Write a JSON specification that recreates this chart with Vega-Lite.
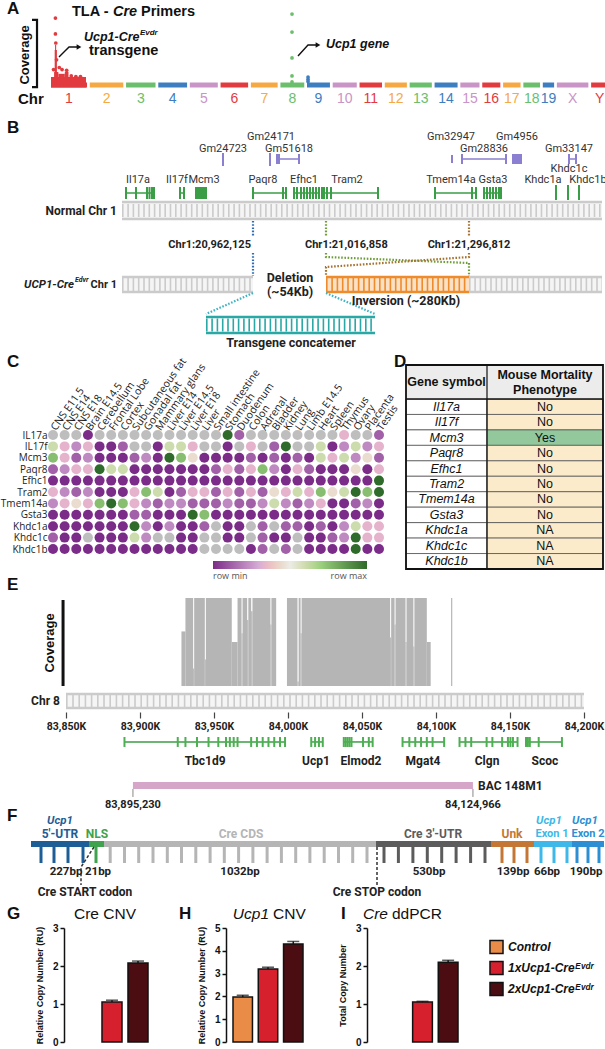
{
"$schema": "https://vega.github.io/schema/vega-lite/v6.json",
"padding": 0,
"background": "white",
"spacing": 0,
"bounds": "flush",
"config": {"view": {"stroke": null}, "font": "Liberation Sans"},
"resolve": {"scale": {"color": "independent", "fill": "independent", "stroke": "independent"}},
"datasets": {
"heat": [
{"g":"IL17a","t":"CNS E11.5","v":null},{"g":"IL17a","t":"CNS E14","v":null},{"g":"IL17a","t":"CNS E18","v":null},{"g":"IL17a","t":"Brain E14.5","v":0},{"g":"IL17a","t":"Cerebellum","v":null},{"g":"IL17a","t":"Frontal Lobe","v":null},{"g":"IL17a","t":"Cortex","v":null},{"g":"IL17a","t":"Subcutaneous fat","v":null},{"g":"IL17a","t":"Gonadal fat","v":null},{"g":"IL17a","t":"Mammary glans","v":null},{"g":"IL17a","t":"Liver E14","v":null},{"g":"IL17a","t":"Liver E14.5","v":null},{"g":"IL17a","t":"Liver E18","v":null},{"g":"IL17a","t":"Liver","v":null},{"g":"IL17a","t":"Small intestine","v":null},{"g":"IL17a","t":"Stomach","v":1},{"g":"IL17a","t":"Duodenum","v":0.12},{"g":"IL17a","t":"Colon","v":null},{"g":"IL17a","t":"Adrenal","v":null},{"g":"IL17a","t":"Bladder","v":null},{"g":"IL17a","t":"Kidney","v":null},{"g":"IL17a","t":"Lung","v":null},{"g":"IL17a","t":"Limb E14.5","v":null},{"g":"IL17a","t":"Heart","v":null},{"g":"IL17a","t":"Spleen","v":null},{"g":"IL17a","t":"Thymus","v":0.33},{"g":"IL17a","t":"Ovary","v":null},{"g":"IL17a","t":"Placenta","v":null},{"g":"IL17a","t":"Testis","v":0.12},
{"g":"IL17f","t":"CNS E11.5","v":0.6},{"g":"IL17f","t":"CNS E14","v":0.33},{"g":"IL17f","t":"CNS E18","v":0.22},{"g":"IL17f","t":"Brain E14.5","v":0.33},{"g":"IL17f","t":"Cerebellum","v":0},{"g":"IL17f","t":"Frontal Lobe","v":0},{"g":"IL17f","t":"Cortex","v":0.12},{"g":"IL17f","t":"Subcutaneous fat","v":null},{"g":"IL17f","t":"Gonadal fat","v":null},{"g":"IL17f","t":"Mammary glans","v":0},{"g":"IL17f","t":"Liver E14","v":0.6},{"g":"IL17f","t":"Liver E14.5","v":0.6},{"g":"IL17f","t":"Liver E18","v":0.33},{"g":"IL17f","t":"Liver","v":null},{"g":"IL17f","t":"Small intestine","v":null},{"g":"IL17f","t":"Stomach","v":0},{"g":"IL17f","t":"Duodenum","v":null},{"g":"IL17f","t":"Colon","v":0.33},{"g":"IL17f","t":"Adrenal","v":null},{"g":"IL17f","t":"Bladder","v":0.12},{"g":"IL17f","t":"Kidney","v":1},{"g":"IL17f","t":"Lung","v":null},{"g":"IL17f","t":"Limb E14.5","v":null},{"g":"IL17f","t":"Heart","v":0.6},{"g":"IL17f","t":"Spleen","v":0},{"g":"IL17f","t":"Thymus","v":0.22},{"g":"IL17f","t":"Ovary","v":0.6},{"g":"IL17f","t":"Placenta","v":0.22},{"g":"IL17f","t":"Testis","v":0.33},
{"g":"Mcm3","t":"CNS E11.5","v":0.75},{"g":"Mcm3","t":"CNS E14","v":0.33},{"g":"Mcm3","t":"CNS E18","v":0.12},{"g":"Mcm3","t":"Brain E14.5","v":0.22},{"g":"Mcm3","t":"Cerebellum","v":0},{"g":"Mcm3","t":"Frontal Lobe","v":0},{"g":"Mcm3","t":"Cortex","v":0},{"g":"Mcm3","t":"Subcutaneous fat","v":0.12},{"g":"Mcm3","t":"Gonadal fat","v":0.22},{"g":"Mcm3","t":"Mammary glans","v":0},{"g":"Mcm3","t":"Liver E14","v":1},{"g":"Mcm3","t":"Liver E14.5","v":0.75},{"g":"Mcm3","t":"Liver E18","v":0.45},{"g":"Mcm3","t":"Liver","v":0},{"g":"Mcm3","t":"Small intestine","v":0},{"g":"Mcm3","t":"Stomach","v":0},{"g":"Mcm3","t":"Duodenum","v":0},{"g":"Mcm3","t":"Colon","v":0.12},{"g":"Mcm3","t":"Adrenal","v":0},{"g":"Mcm3","t":"Bladder","v":0.12},{"g":"Mcm3","t":"Kidney","v":0},{"g":"Mcm3","t":"Lung","v":0.12},{"g":"Mcm3","t":"Limb E14.5","v":0},{"g":"Mcm3","t":"Heart","v":0.6},{"g":"Mcm3","t":"Spleen","v":0.33},{"g":"Mcm3","t":"Thymus","v":0.6},{"g":"Mcm3","t":"Ovary","v":0.22},{"g":"Mcm3","t":"Placenta","v":0.45},{"g":"Mcm3","t":"Testis","v":0.12},
{"g":"Paqr8","t":"CNS E11.5","v":0.12},{"g":"Paqr8","t":"CNS E14","v":0.22},{"g":"Paqr8","t":"CNS E18","v":0.33},{"g":"Paqr8","t":"Brain E14.5","v":0.33},{"g":"Paqr8","t":"Cerebellum","v":1},{"g":"Paqr8","t":"Frontal Lobe","v":0.6},{"g":"Paqr8","t":"Cortex","v":0.6},{"g":"Paqr8","t":"Subcutaneous fat","v":0},{"g":"Paqr8","t":"Gonadal fat","v":0},{"g":"Paqr8","t":"Mammary glans","v":0},{"g":"Paqr8","t":"Liver E14","v":0},{"g":"Paqr8","t":"Liver E14.5","v":0},{"g":"Paqr8","t":"Liver E18","v":0},{"g":"Paqr8","t":"Liver","v":0},{"g":"Paqr8","t":"Small intestine","v":0.12},{"g":"Paqr8","t":"Stomach","v":0.33},{"g":"Paqr8","t":"Duodenum","v":0.12},{"g":"Paqr8","t":"Colon","v":0.33},{"g":"Paqr8","t":"Adrenal","v":0.75},{"g":"Paqr8","t":"Bladder","v":0.22},{"g":"Paqr8","t":"Kidney","v":0},{"g":"Paqr8","t":"Lung","v":0.33},{"g":"Paqr8","t":"Limb E14.5","v":0.12},{"g":"Paqr8","t":"Heart","v":0},{"g":"Paqr8","t":"Spleen","v":0},{"g":"Paqr8","t":"Thymus","v":0},{"g":"Paqr8","t":"Ovary","v":0.45},{"g":"Paqr8","t":"Placenta","v":0},{"g":"Paqr8","t":"Testis","v":0.33},
{"g":"Efhc1","t":"CNS E11.5","v":0},{"g":"Efhc1","t":"CNS E14","v":0},{"g":"Efhc1","t":"CNS E18","v":0},{"g":"Efhc1","t":"Brain E14.5","v":0},{"g":"Efhc1","t":"Cerebellum","v":0},{"g":"Efhc1","t":"Frontal Lobe","v":0},{"g":"Efhc1","t":"Cortex","v":0},{"g":"Efhc1","t":"Subcutaneous fat","v":0},{"g":"Efhc1","t":"Gonadal fat","v":0},{"g":"Efhc1","t":"Mammary glans","v":0},{"g":"Efhc1","t":"Liver E14","v":0},{"g":"Efhc1","t":"Liver E14.5","v":0},{"g":"Efhc1","t":"Liver E18","v":0},{"g":"Efhc1","t":"Liver","v":0},{"g":"Efhc1","t":"Small intestine","v":0},{"g":"Efhc1","t":"Stomach","v":0},{"g":"Efhc1","t":"Duodenum","v":0},{"g":"Efhc1","t":"Colon","v":0},{"g":"Efhc1","t":"Adrenal","v":0},{"g":"Efhc1","t":"Bladder","v":0},{"g":"Efhc1","t":"Kidney","v":0},{"g":"Efhc1","t":"Lung","v":0},{"g":"Efhc1","t":"Limb E14.5","v":0},{"g":"Efhc1","t":"Heart","v":0},{"g":"Efhc1","t":"Spleen","v":0},{"g":"Efhc1","t":"Thymus","v":0},{"g":"Efhc1","t":"Ovary","v":0},{"g":"Efhc1","t":"Placenta","v":0},{"g":"Efhc1","t":"Testis","v":1},
{"g":"Tram2","t":"CNS E11.5","v":0.33},{"g":"Tram2","t":"CNS E14","v":0.22},{"g":"Tram2","t":"CNS E18","v":0.12},{"g":"Tram2","t":"Brain E14.5","v":0.22},{"g":"Tram2","t":"Cerebellum","v":0},{"g":"Tram2","t":"Frontal Lobe","v":0},{"g":"Tram2","t":"Cortex","v":0},{"g":"Tram2","t":"Subcutaneous fat","v":0.33},{"g":"Tram2","t":"Gonadal fat","v":0.75},{"g":"Tram2","t":"Mammary glans","v":0.6},{"g":"Tram2","t":"Liver E14","v":0},{"g":"Tram2","t":"Liver E14.5","v":0.12},{"g":"Tram2","t":"Liver E18","v":0.33},{"g":"Tram2","t":"Liver","v":0.33},{"g":"Tram2","t":"Small intestine","v":0.12},{"g":"Tram2","t":"Stomach","v":0.33},{"g":"Tram2","t":"Duodenum","v":0.12},{"g":"Tram2","t":"Colon","v":0.33},{"g":"Tram2","t":"Adrenal","v":0.12},{"g":"Tram2","t":"Bladder","v":0.45},{"g":"Tram2","t":"Kidney","v":0.33},{"g":"Tram2","t":"Lung","v":0.6},{"g":"Tram2","t":"Limb E14.5","v":0.33},{"g":"Tram2","t":"Heart","v":0.75},{"g":"Tram2","t":"Spleen","v":0.45},{"g":"Tram2","t":"Thymus","v":0.6},{"g":"Tram2","t":"Ovary","v":1},{"g":"Tram2","t":"Placenta","v":0.75},{"g":"Tram2","t":"Testis","v":1},
{"g":"Tmem14a","t":"CNS E11.5","v":0.22},{"g":"Tmem14a","t":"CNS E14","v":0.33},{"g":"Tmem14a","t":"CNS E18","v":0.45},{"g":"Tmem14a","t":"Brain E14.5","v":0.33},{"g":"Tmem14a","t":"Cerebellum","v":0.75},{"g":"Tmem14a","t":"Frontal Lobe","v":1},{"g":"Tmem14a","t":"Cortex","v":0.75},{"g":"Tmem14a","t":"Subcutaneous fat","v":0.33},{"g":"Tmem14a","t":"Gonadal fat","v":0.22},{"g":"Tmem14a","t":"Mammary glans","v":0.12},{"g":"Tmem14a","t":"Liver E14","v":0.22},{"g":"Tmem14a","t":"Liver E14.5","v":0.22},{"g":"Tmem14a","t":"Liver E18","v":0.12},{"g":"Tmem14a","t":"Liver","v":0.12},{"g":"Tmem14a","t":"Small intestine","v":0.12},{"g":"Tmem14a","t":"Stomach","v":0.22},{"g":"Tmem14a","t":"Duodenum","v":0.12},{"g":"Tmem14a","t":"Colon","v":0.12},{"g":"Tmem14a","t":"Adrenal","v":0.22},{"g":"Tmem14a","t":"Bladder","v":0.6},{"g":"Tmem14a","t":"Kidney","v":0.22},{"g":"Tmem14a","t":"Lung","v":0.12},{"g":"Tmem14a","t":"Limb E14.5","v":0.22},{"g":"Tmem14a","t":"Heart","v":0.33},{"g":"Tmem14a","t":"Spleen","v":0},{"g":"Tmem14a","t":"Thymus","v":0},{"g":"Tmem14a","t":"Ovary","v":0.12},{"g":"Tmem14a","t":"Placenta","v":0.22},{"g":"Tmem14a","t":"Testis","v":0},
{"g":"Gsta3","t":"CNS E11.5","v":0},{"g":"Gsta3","t":"CNS E14","v":0},{"g":"Gsta3","t":"CNS E18","v":0},{"g":"Gsta3","t":"Brain E14.5","v":0},{"g":"Gsta3","t":"Cerebellum","v":0},{"g":"Gsta3","t":"Frontal Lobe","v":0},{"g":"Gsta3","t":"Cortex","v":0},{"g":"Gsta3","t":"Subcutaneous fat","v":0.12},{"g":"Gsta3","t":"Gonadal fat","v":0.12},{"g":"Gsta3","t":"Mammary glans","v":0},{"g":"Gsta3","t":"Liver E14","v":0},{"g":"Gsta3","t":"Liver E14.5","v":0},{"g":"Gsta3","t":"Liver E18","v":1},{"g":"Gsta3","t":"Liver","v":0.75},{"g":"Gsta3","t":"Small intestine","v":0},{"g":"Gsta3","t":"Stomach","v":0},{"g":"Gsta3","t":"Duodenum","v":0},{"g":"Gsta3","t":"Colon","v":0},{"g":"Gsta3","t":"Adrenal","v":0},{"g":"Gsta3","t":"Bladder","v":0},{"g":"Gsta3","t":"Kidney","v":0},{"g":"Gsta3","t":"Lung","v":0},{"g":"Gsta3","t":"Limb E14.5","v":0},{"g":"Gsta3","t":"Heart","v":0},{"g":"Gsta3","t":"Spleen","v":0},{"g":"Gsta3","t":"Thymus","v":0},{"g":"Gsta3","t":"Ovary","v":0},{"g":"Gsta3","t":"Placenta","v":0},{"g":"Gsta3","t":"Testis","v":0},
{"g":"Khdc1a","t":"CNS E11.5","v":0},{"g":"Khdc1a","t":"CNS E14","v":0},{"g":"Khdc1a","t":"CNS E18","v":0},{"g":"Khdc1a","t":"Brain E14.5","v":0},{"g":"Khdc1a","t":"Cerebellum","v":0},{"g":"Khdc1a","t":"Frontal Lobe","v":0},{"g":"Khdc1a","t":"Cortex","v":0},{"g":"Khdc1a","t":"Subcutaneous fat","v":1},{"g":"Khdc1a","t":"Gonadal fat","v":0.22},{"g":"Khdc1a","t":"Mammary glans","v":0},{"g":"Khdc1a","t":"Liver E14","v":0.22},{"g":"Khdc1a","t":"Liver E14.5","v":0},{"g":"Khdc1a","t":"Liver E18","v":0},{"g":"Khdc1a","t":"Liver","v":0.12},{"g":"Khdc1a","t":"Small intestine","v":null},{"g":"Khdc1a","t":"Stomach","v":0},{"g":"Khdc1a","t":"Duodenum","v":0},{"g":"Khdc1a","t":"Colon","v":null},{"g":"Khdc1a","t":"Adrenal","v":0.12},{"g":"Khdc1a","t":"Bladder","v":null},{"g":"Khdc1a","t":"Kidney","v":0.12},{"g":"Khdc1a","t":"Lung","v":0.12},{"g":"Khdc1a","t":"Limb E14.5","v":0},{"g":"Khdc1a","t":"Heart","v":0.12},{"g":"Khdc1a","t":"Spleen","v":0},{"g":"Khdc1a","t":"Thymus","v":0.22},{"g":"Khdc1a","t":"Ovary","v":0.6},{"g":"Khdc1a","t":"Placenta","v":0.33},{"g":"Khdc1a","t":"Testis","v":0.33},
{"g":"Khdc1c","t":"CNS E11.5","v":0.12},{"g":"Khdc1c","t":"CNS E14","v":0},{"g":"Khdc1c","t":"CNS E18","v":0},{"g":"Khdc1c","t":"Brain E14.5","v":null},{"g":"Khdc1c","t":"Cerebellum","v":0},{"g":"Khdc1c","t":"Frontal Lobe","v":0},{"g":"Khdc1c","t":"Cortex","v":0},{"g":"Khdc1c","t":"Subcutaneous fat","v":0.6},{"g":"Khdc1c","t":"Gonadal fat","v":0.22},{"g":"Khdc1c","t":"Mammary glans","v":null},{"g":"Khdc1c","t":"Liver E14","v":null},{"g":"Khdc1c","t":"Liver E14.5","v":0},{"g":"Khdc1c","t":"Liver E18","v":0},{"g":"Khdc1c","t":"Liver","v":null},{"g":"Khdc1c","t":"Small intestine","v":null},{"g":"Khdc1c","t":"Stomach","v":0},{"g":"Khdc1c","t":"Duodenum","v":0},{"g":"Khdc1c","t":"Colon","v":null},{"g":"Khdc1c","t":"Adrenal","v":0.12},{"g":"Khdc1c","t":"Bladder","v":0},{"g":"Khdc1c","t":"Kidney","v":0},{"g":"Khdc1c","t":"Lung","v":null},{"g":"Khdc1c","t":"Limb E14.5","v":0},{"g":"Khdc1c","t":"Heart","v":0},{"g":"Khdc1c","t":"Spleen","v":0.12},{"g":"Khdc1c","t":"Thymus","v":0.22},{"g":"Khdc1c","t":"Ovary","v":1},{"g":"Khdc1c","t":"Placenta","v":0.33},{"g":"Khdc1c","t":"Testis","v":0.33},
{"g":"Khdc1b","t":"CNS E11.5","v":0},{"g":"Khdc1b","t":"CNS E14","v":0},{"g":"Khdc1b","t":"CNS E18","v":0},{"g":"Khdc1b","t":"Brain E14.5","v":0},{"g":"Khdc1b","t":"Cerebellum","v":0},{"g":"Khdc1b","t":"Frontal Lobe","v":0},{"g":"Khdc1b","t":"Cortex","v":0},{"g":"Khdc1b","t":"Subcutaneous fat","v":0},{"g":"Khdc1b","t":"Gonadal fat","v":0},{"g":"Khdc1b","t":"Mammary glans","v":0},{"g":"Khdc1b","t":"Liver E14","v":0},{"g":"Khdc1b","t":"Liver E14.5","v":0},{"g":"Khdc1b","t":"Liver E18","v":0},{"g":"Khdc1b","t":"Liver","v":null},{"g":"Khdc1b","t":"Small intestine","v":null},{"g":"Khdc1b","t":"Stomach","v":null},{"g":"Khdc1b","t":"Duodenum","v":null},{"g":"Khdc1b","t":"Colon","v":0},{"g":"Khdc1b","t":"Adrenal","v":0.12},{"g":"Khdc1b","t":"Bladder","v":null},{"g":"Khdc1b","t":"Kidney","v":0.12},{"g":"Khdc1b","t":"Lung","v":null},{"g":"Khdc1b","t":"Limb E14.5","v":0},{"g":"Khdc1b","t":"Heart","v":0},{"g":"Khdc1b","t":"Spleen","v":0},{"g":"Khdc1b","t":"Thymus","v":0},{"g":"Khdc1b","t":"Ovary","v":1},{"g":"Khdc1b","t":"Placenta","v":0},{"g":"Khdc1b","t":"Testis","v":0}
]
},
"vconcat": [
{
 "width": 605, "height": 112,
 "data": {"values": [{}]},
 "encoding": {
  "x": {"field": "x", "type": "quantitative", "scale": {"domain": [-255.3, 3030.6], "nice": false, "zero": false}, "axis": null},
  "y": {"field": "y", "type": "quantitative", "scale": {"domain": [-38.57, 121.43], "nice": false, "zero": false}, "axis": null}
 },
 "layer": [
  {"data": {"values": [
    {"chr":"1","x":0,"x2":195.5,"y":0,"mid":97.8},{"chr":"2","x":210.5,"x2":392.6,"y":0,"mid":301.6},{"chr":"3","x":407.6,"x2":567.6,"y":0,"mid":487.6},{"chr":"4","x":582.6,"x2":739.1,"y":0,"mid":660.9},{"chr":"5","x":754.1,"x2":905.9,"y":0,"mid":830},{"chr":"6","x":920.9,"x2":1070.6,"y":0,"mid":995.8},{"chr":"7","x":1085.6,"x2":1231,"y":0,"mid":1158.3},{"chr":"8","x":1246,"x2":1375.4,"y":0,"mid":1310.7},{"chr":"9","x":1390.4,"x2":1515,"y":0,"mid":1452.7},{"chr":"10","x":1530,"x2":1660.7,"y":0,"mid":1595.4},{"chr":"11","x":1675.7,"x2":1797.8,"y":0,"mid":1736.8},{"chr":"12","x":1812.8,"x2":1932.9,"y":0,"mid":1872.9},{"chr":"13","x":1947.9,"x2":2068.3,"y":0,"mid":2008.1},{"chr":"14","x":2083.3,"x2":2208.2,"y":0,"mid":2145.8},{"chr":"15","x":2223.2,"x2":2327.2,"y":0,"mid":2275.2},{"chr":"16","x":2342.2,"x2":2440.4,"y":0,"mid":2391.3},{"chr":"17","x":2455.4,"x2":2550.4,"y":0,"mid":2502.9},{"chr":"18","x":2565.4,"x2":2656.1,"y":0,"mid":2610.8},{"chr":"19","x":2671.1,"x2":2732.5,"y":0,"mid":2701.8},{"chr":"X","x":2747.5,"x2":2918.5,"y":0,"mid":2833},{"chr":"Y","x":2933.5,"x2":3025.2,"y":0,"mid":2979.4}
   ]},
   "layer": [
    {"mark": {"type": "rule", "strokeWidth": 5, "strokeCap": "butt"},
     "encoding": {"x2": {"field": "x2"}, "color": {"field": "chr", "type": "nominal", "scale": {"domain": ["1","2","3","4","5","6","7","8","9","10","11","12","13","14","15","16","17","18","19","X","Y"], "range": ["#E23B3F","#F6A943","#6BBE6B","#3D7EC1","#C994C6","#E23B3F","#F6A943","#6BBE6B","#3D7EC1","#C994C6","#E23B3F","#F6A943","#6BBE6B","#3D7EC1","#C994C6","#E23B3F","#F6A943","#6BBE6B","#3D7EC1","#C994C6","#E23B3F"]}, "legend": null}}},
    {"mark": {"type": "text", "fontSize": 14, "font": "Liberation Sans"},
     "encoding": {"x": {"field": "mid", "type": "quantitative"}, "y": {"datum": -20}, "text": {"field": "chr"}, "color": {"field": "chr", "type": "nominal", "legend": null}}}
   ]},
  {"data": {"values": [
    {"chr":"1","x":0,"x2":190,"y":-3.5,"y2":11.4},{"chr":"1","x":17,"x2":40,"y":0,"y2":18.6},{"chr":"1","x":40,"x2":75,"y":0,"y2":16},{"chr":"1","x":75,"x2":95,"y":0,"y2":18.6},{"chr":"1","x":20,"x2":32,"y":0,"y2":50},{"chr":"1","x":22,"x2":28,"y":0,"y2":57}
   ]},
   "mark": {"type": "rect"},
   "encoding": {"x2": {"field": "x2"}, "y2": {"field": "y2"}, "color": {"field": "chr", "type": "nominal", "legend": null}}},
  {"data": {"values": [
    {"chr":"1","x":24,"y":95.7},{"chr":"1","x":24,"y":72.9},{"chr":"1","x":26,"y":60},{"chr":"1","x":30,"y":36},{"chr":"1","x":45,"y":25},{"chr":"1","x":60,"y":22},{"chr":"1","x":85,"y":21},{"chr":"1","x":14,"y":22},{"chr":"1","x":110,"y":13},{"chr":"1","x":135,"y":12},{"chr":"1","x":160,"y":12},
    {"chr":"8","x":1309,"y":101.4},{"chr":"8","x":1309,"y":75.7},{"chr":"8","x":1309,"y":38.6},{"chr":"8","x":1309,"y":12.9},{"chr":"8","x":1309,"y":4.3},
    {"chr":"9","x":1396,"y":11.4},{"chr":"9","x":1396,"y":8},{"chr":"9","x":1396,"y":5}
   ]},
   "mark": {"type": "circle", "size": 14, "opacity": 1},
   "encoding": {"color": {"field": "chr", "type": "nominal", "legend": null}}},
  {"data": {"values": [
    {"id":"br","o":1,"x":-103.2,"y":92.9},{"id":"br","o":2,"x":-76,"y":92.9},{"id":"br","o":3,"x":-76,"y":-2.9},{"id":"br","o":4,"x":-103.2,"y":-2.9}
   ]},
   "mark": {"type": "line", "strokeWidth": 2.2, "color": "#111"},
   "encoding": {"detail": {"field": "id"}, "order": {"field": "o"}}},
  {"data": {"values": [
    {"id":"a1","o":1,"x":43.4,"y":40},{"id":"a1","o":2,"x":97.8,"y":54.3},{"id":"a1","o":3,"x":147,"y":54.3},
    {"id":"a2","o":1,"x":1341.5,"y":41.4},{"id":"a2","o":2,"x":1395.8,"y":57.1},{"id":"a2","o":3,"x":1445,"y":57.1}
   ]},
   "mark": {"type": "line", "strokeWidth": 1.4, "color": "#111"},
   "encoding": {"detail": {"field": "id"}, "order": {"field": "o"}}},
  {"data": {"values": [{"x":152.1,"y":54.3},{"x":1450.1,"y":57.1}]},
   "mark": {"type": "point", "shape": "triangle-right", "size": 30, "filled": true, "color": "#111", "opacity": 1}},
  {"data": {"values": [{"t":"A","x":-239,"y":107.9}]},
   "mark": {"type": "text", "align": "left", "fontSize": 17, "fontWeight": "bold", "color": "#111"},
   "encoding": {"text": {"field": "t"}}},
  {"data": {"values": [{"t":"TLA -","x":114.1,"y":104.3},{"t":"Primers","x":488.8,"y":104.3},{"t":"transgene","x":206.4,"y":48.6}]},
   "mark": {"type": "text", "align": "left", "fontSize": 14.5, "fontWeight": "bold", "color": "#111"},
   "encoding": {"text": {"field": "t"}}},
  {"data": {"values": [{"t":"Cre","x":336.7,"y":104.3}]},
   "mark": {"type": "text", "align": "left", "fontSize": 14.5, "fontWeight": "bold", "fontStyle": "italic", "color": "#111"},
   "encoding": {"text": {"field": "t"}}},
  {"data": {"values": [{"t":"Chr","x":-179.2,"y":-20}]},
   "mark": {"type": "text", "align": "left", "fontSize": 15, "fontWeight": "bold", "color": "#111"},
   "encoding": {"text": {"field": "t"}}},
  {"data": {"values": [{"t":"Coverage","x":-141.2,"y":42.9}]},
   "mark": {"type": "text", "angle": 270, "fontSize": 13, "fontWeight": "bold", "color": "#111"},
   "encoding": {"text": {"field": "t"}}},
  {"data": {"values": [{"t":"Ucp1-Cre","x":179.2,"y":68.6},{"t":"Ucp1 gene","x":1493.6,"y":58.6}]},
   "mark": {"type": "text", "align": "left", "fontSize": 12.5, "fontWeight": "bold", "fontStyle": "italic", "color": "#111"},
   "encoding": {"text": {"field": "t"}}},
  {"data": {"values": [{"t":"Evdr","x":483,"y":74.3}]},
   "mark": {"type": "text", "align": "left", "fontSize": 8, "fontWeight": "bold", "fontStyle": "italic", "color": "#111"},
   "encoding": {"text": {"field": "t"}}}
 ]
},
{
 "width": 605, "height": 252,
 "data": {"values": [{}]},
 "encoding": {
  "x": {"field": "x", "type": "quantitative", "scale": {"domain": [0, 605], "nice": false, "zero": false}, "axis": null},
  "y": {"field": "y", "type": "quantitative", "scale": {"domain": [112, 364], "reverse": true, "nice": false, "zero": false}, "axis": null}
 },
 "layer": [
  {"data": {"values": [
    {"kind":"gray","x":118,"x2":598,"y":202,"y2":219,"yc":210.5},
    {"kind":"gray","x":118,"x2":249,"y":277,"y2":292,"yc":284.5},
    {"kind":"orange","x":322,"x2":465,"y":277,"y2":292,"yc":284.5},
    {"kind":"gray","x":465,"x2":598,"y":277,"y2":292,"yc":284.5},
    {"kind":"teal","x":202,"x2":371,"y":317,"y2":333,"yc":325}
   ]},
   "layer": [
    {"mark": {"type": "rect"}, "encoding": {"x2": {"field": "x2"}, "y2": {"field": "y2"}, "fill": {"field": "kind", "type": "nominal", "scale": {"domain": ["gray","orange","teal"], "range": ["#F5F5F5","#FBE2C6","#FFFFFF"]}, "legend": null}}},
    {"mark": {"type": "rule", "strokeWidth": 13, "strokeDash": [1.6, 3.7], "strokeCap": "butt"}, "encoding": {"x2": {"field": "x2"}, "y": {"field": "yc"}, "stroke": {"field": "kind", "type": "nominal", "scale": {"domain": ["gray","orange","teal","blue","green","brown","cyan","gene","gm"], "range": ["#CBCBCB","#EE8B2C","#2AA8A5","#2F6DB5","#6E9E3A","#A5722F","#3DB5C4","#3A9E46","#8A7FD0"]}, "legend": null}}},
    {"mark": {"type": "rule", "strokeWidth": 2.5}, "encoding": {"x2": {"field": "x2"}, "stroke": {"field": "kind", "type": "nominal", "legend": null}}},
    {"mark": {"type": "rule", "strokeWidth": 2.5}, "encoding": {"x2": {"field": "x2"}, "y": {"field": "y2"}, "stroke": {"field": "kind", "type": "nominal", "legend": null}}}
   ]},
  {"data": {"values": [
    {"id":"b1","kind":"blue","o":1,"x":249,"y":221},{"id":"b1","kind":"blue","o":2,"x":249,"y":236},
    {"id":"b2","kind":"blue","o":1,"x":249,"y":253},{"id":"b2","kind":"blue","o":2,"x":249,"y":276},
    {"id":"g1","kind":"green","o":1,"x":322,"y":221},{"id":"g1","kind":"green","o":2,"x":322,"y":236},
    {"id":"g2","kind":"green","o":1,"x":322,"y":253},{"id":"g2","kind":"green","o":2,"x":322,"y":257},{"id":"g2","kind":"green","o":3,"x":465,"y":263},{"id":"g2","kind":"green","o":4,"x":465,"y":276},
    {"id":"r1","kind":"brown","o":1,"x":465,"y":221},{"id":"r1","kind":"brown","o":2,"x":465,"y":236},
    {"id":"r2","kind":"brown","o":1,"x":465,"y":253},{"id":"r2","kind":"brown","o":2,"x":465,"y":257},{"id":"r2","kind":"brown","o":3,"x":322,"y":267},{"id":"r2","kind":"brown","o":4,"x":322,"y":276},
    {"id":"c1","kind":"cyan","o":1,"x":249,"y":293},{"id":"c1","kind":"cyan","o":2,"x":202,"y":314},
    {"id":"c2","kind":"cyan","o":1,"x":322,"y":293},{"id":"c2","kind":"cyan","o":2,"x":371,"y":314}
   ]},
   "mark": {"type": "line", "strokeWidth": 2.2, "strokeDash": [1.6, 1.6]},
   "encoding": {"detail": {"field": "id"}, "order": {"field": "o"}, "stroke": {"field": "kind", "type": "nominal", "legend": null}}},
  {"data": {"values": [
    {"kind":"gene","x":122,"x2":150,"y":193},{"kind":"gene","x":176,"x2":180,"y":193},{"kind":"gene","x":192,"x2":203,"y":193},{"kind":"gene","x":249,"x2":282,"y":193},{"kind":"gene","x":290,"x2":315,"y":193},{"kind":"gene","x":318,"x2":374,"y":193},{"kind":"gene","x":431,"x2":472,"y":193},{"kind":"gene","x":480,"x2":497,"y":193},
    {"kind":"gm","x":273,"x2":295,"y":159},{"kind":"gm","x":458,"x2":502,"y":159},{"kind":"gm","x":565,"x2":572,"y":159}
   ]},
   "mark": {"type": "rule", "strokeWidth": 1.5},
   "encoding": {"x2": {"field": "x2"}, "stroke": {"field": "kind", "type": "nominal", "legend": null}}},
  {"data": {"values": [
    {"kind":"gene","x":122,"y":187,"y2":199},{"kind":"gene","x":132,"y":187,"y2":199},{"kind":"gene","x":143,"y":187,"y2":199},{"kind":"gene","x":145.5,"y":187,"y2":199},{"kind":"gene","x":148,"y":187,"y2":199},{"kind":"gene","x":150,"y":187,"y2":199},
    {"kind":"gene","x":176,"y":187,"y2":199},{"kind":"gene","x":180,"y":187,"y2":199},
    {"kind":"gene","x":192,"y":187,"y2":199},{"kind":"gene","x":194,"y":187,"y2":199},{"kind":"gene","x":196,"y":187,"y2":199},{"kind":"gene","x":198,"y":187,"y2":199},{"kind":"gene","x":200,"y":187,"y2":199},{"kind":"gene","x":202,"y":187,"y2":199},
    {"kind":"gene","x":249,"y":187,"y2":199},{"kind":"gene","x":279,"y":187,"y2":199},{"kind":"gene","x":282,"y":187,"y2":199},
    {"kind":"gene","x":290,"y":187,"y2":199},{"kind":"gene","x":293,"y":187,"y2":199},{"kind":"gene","x":297,"y":187,"y2":199},{"kind":"gene","x":300,"y":187,"y2":199},{"kind":"gene","x":303,"y":187,"y2":199},{"kind":"gene","x":306,"y":187,"y2":199},{"kind":"gene","x":309,"y":187,"y2":199},{"kind":"gene","x":312,"y":187,"y2":199},{"kind":"gene","x":315,"y":187,"y2":199},
    {"kind":"gene","x":318,"y":187,"y2":199},{"kind":"gene","x":320,"y":187,"y2":199},{"kind":"gene","x":323,"y":187,"y2":199},{"kind":"gene","x":327,"y":187,"y2":199},{"kind":"gene","x":374,"y":187,"y2":199},
    {"kind":"gene","x":431,"y":187,"y2":199},{"kind":"gene","x":468,"y":187,"y2":199},{"kind":"gene","x":472,"y":187,"y2":199},
    {"kind":"gene","x":480,"y":187,"y2":199},{"kind":"gene","x":483,"y":187,"y2":199},{"kind":"gene","x":486,"y":187,"y2":199},{"kind":"gene","x":489,"y":187,"y2":199},{"kind":"gene","x":492,"y":187,"y2":199},{"kind":"gene","x":495,"y":187,"y2":199},{"kind":"gene","x":497,"y":187,"y2":199},
    {"kind":"gene","x":552,"y":185,"y2":200},{"kind":"gene","x":564,"y":185,"y2":200},{"kind":"gene","x":575,"y":185,"y2":200},
    {"kind":"gm","x":219,"y":153,"y2":166},{"kind":"gm","x":266,"y":153,"y2":166},
    {"kind":"gm","x":273,"y":154,"y2":164},{"kind":"gm","x":275,"y":154,"y2":164},{"kind":"gm","x":295,"y":154,"y2":164},
    {"kind":"gm","x":448,"y":155,"y2":163},
    {"kind":"gm","x":458,"y":154,"y2":164},{"kind":"gm","x":502,"y":154,"y2":164},
    {"kind":"gm","x":509,"y":154,"y2":164},{"kind":"gm","x":511,"y":154,"y2":164},{"kind":"gm","x":513,"y":154,"y2":164},{"kind":"gm","x":515,"y":154,"y2":164},{"kind":"gm","x":517,"y":154,"y2":164},
    {"kind":"gm","x":565,"y":154,"y2":164},{"kind":"gm","x":572,"y":154,"y2":164}
   ]},
   "mark": {"type": "rule", "strokeWidth": 2},
   "encoding": {"y2": {"field": "y2"}, "stroke": {"field": "kind", "type": "nominal", "legend": null}}},
  {"data": {"values": [{"t":"B","x":3,"y":128},{"t":"C","x":3,"y":362},{"t":"D","x":390,"y":362}]},
   "mark": {"type": "text", "align": "left", "fontSize": 17, "fontWeight": "bold", "color": "#111"},
   "encoding": {"text": {"field": "t"}}},
  {"data": {"values": [
    {"t":"Gm24171","x":267,"y":137},{"t":"Gm24723","x":219,"y":149},{"t":"Gm51618","x":285,"y":149},{"t":"Gm32947","x":447,"y":137},{"t":"Gm4956","x":513,"y":137},{"t":"Gm28836","x":480,"y":149},{"t":"Gm33147","x":565,"y":149},{"t":"Khdc1c","x":565,"y":169},
    {"t":"Il17a","x":134,"y":180},{"t":"Il17f","x":173,"y":180},{"t":"Mcm3","x":200,"y":180},{"t":"Paqr8","x":259,"y":180},{"t":"Efhc1","x":300,"y":180},{"t":"Tram2","x":343,"y":180},{"t":"Tmem14a","x":447,"y":180},{"t":"Gsta3","x":489,"y":180},{"t":"Khdc1a","x":539,"y":180},{"t":"Khdc1b","x":584,"y":180}
   ]},
   "mark": {"type": "text", "font": "Roboto", "fontSize": 11, "color": "#333"},
   "encoding": {"text": {"field": "t"}}},
  {"data": {"values": [{"t":"Normal Chr 1","x":113,"y":211}]},
   "mark": {"type": "text", "align": "right", "font": "Roboto", "fontSize": 12, "fontWeight": "bold", "color": "#222"},
   "encoding": {"text": {"field": "t"}}},
  {"data": {"values": [{"t":"Chr 1","x":113,"y":285}]},
   "mark": {"type": "text", "align": "right", "font": "Roboto", "fontSize": 11, "fontWeight": "bold", "color": "#222"},
   "encoding": {"text": {"field": "t"}}},
  {"data": {"values": [{"t":"UCP1-Cre","x":70,"y":285}]},
   "mark": {"type": "text", "align": "right", "font": "Roboto", "fontSize": 11.5, "fontWeight": "bold", "fontStyle": "italic", "color": "#222"},
   "encoding": {"text": {"field": "t"}}},
  {"data": {"values": [{"t":"Edvr","x":71,"y":280}]},
   "mark": {"type": "text", "align": "left", "font": "Roboto", "fontSize": 7, "fontWeight": "bold", "fontStyle": "italic", "color": "#222"},
   "encoding": {"text": {"field": "t"}}},
  {"data": {"values": [{"t":"Chr1:20,962,125","x":247,"y":245}]},
   "mark": {"type": "text", "align": "right", "font": "Roboto", "fontSize": 11, "fontWeight": "bold", "color": "#222"},
   "encoding": {"text": {"field": "t"}}},
  {"data": {"values": [{"t":"Chr1:21,016,858","x":301,"y":245}]},
   "mark": {"type": "text", "align": "left", "font": "Roboto", "fontSize": 11, "fontWeight": "bold", "color": "#222"},
   "encoding": {"text": {"field": "t"}}},
  {"data": {"values": [{"t":"Chr1:21,296,812","x":465,"y":245}]},
   "mark": {"type": "text", "font": "Roboto", "fontSize": 11, "fontWeight": "bold", "color": "#222"},
   "encoding": {"text": {"field": "t"}}},
  {"data": {"values": [{"t":"Deletion","x":286,"y":278},{"t":"(~54Kb)","x":286,"y":292},{"t":"Inversion (~280Kb)","x":402,"y":301},{"t":"Transgene concatemer","x":287,"y":343}]},
   "mark": {"type": "text", "font": "Roboto", "fontSize": 12.5, "fontWeight": "bold", "color": "#222"},
   "encoding": {"text": {"field": "t"}}}
 ]
},
{
 "width": 605, "height": 216,
 "layer": [
  {
   "data": {"name": "heat"},
   "encoding": {
    "x": {"field": "t", "type": "nominal", "scale": {"type": "point", "domain": ["CNS E11.5","CNS E14","CNS E18","Brain E14.5","Cerebellum","Frontal Lobe","Cortex","Subcutaneous fat","Gonadal fat","Mammary glans","Liver E14","Liver E14.5","Liver E18","Liver","Small intestine","Stomach","Duodenum","Colon","Adrenal","Bladder","Kidney","Lung","Limb E14.5","Heart","Spleen","Thymus","Ovary","Placenta","Testis"], "range": [49, 375], "padding": 0},
      "axis": {"orient": "top", "offset": -66, "title": null, "domain": false, "ticks": false, "labelAngle": -55, "labelAlign": "left", "labelBaseline": "middle", "labelPadding": 1, "labelFont": "Open Sans", "labelFontSize": 10.5, "labelColor": "#222", "labelOverlap": false}},
    "y": {"field": "g", "type": "nominal", "scale": {"type": "point", "domain": ["IL17a","IL17f","Mcm3","Paqr8","Efhc1","Tram2","Tmem14a","Gsta3","Khdc1a","Khdc1c","Khdc1b"], "range": [71, 185], "padding": 0},
      "axis": {"orient": "left", "offset": -44, "title": null, "domain": false, "ticks": false, "labelPadding": 1, "labelFont": "Open Sans", "labelFontSize": 10, "labelColor": "#222"}}
   },
   "layer": [
    {"transform": [{"filter": "datum.v == null"}], "mark": {"type": "circle", "size": 100, "opacity": 1, "color": "#BEBEBE"}},
    {"transform": [{"filter": "datum.v != null"}], "mark": {"type": "circle", "size": 100, "opacity": 1},
     "encoding": {"color": {"field": "v", "type": "quantitative", "scale": {"domain": [0, 0.3, 0.5, 0.7, 1], "range": ["#7B2C89", "#D7ADD6", "#ECECE6", "#9BD07E", "#2F6B2A"]},
      "legend": {"orient": "none", "legendX": 209, "legendY": 197, "direction": "horizontal", "gradientLength": 154, "gradientThickness": 8, "gradientStrokeWidth": 0, "title": null, "values": [0, 1], "labelExpr": "datum.value == 0 ? 'row min' : 'row max'", "labelFont": "Open Sans", "labelFontSize": 9, "labelColor": "#555", "labelAlign": "center", "labelOffset": 3}}}}
   ]
  },
  {
   "layer": [
    {
     "data": {"values": [
      {"gene":"Il17a","pheno":"No"},{"gene":"Il17f","pheno":"No"},{"gene":"Mcm3","pheno":"Yes"},{"gene":"Paqr8","pheno":"No"},{"gene":"Efhc1","pheno":"No"},{"gene":"Tram2","pheno":"No"},{"gene":"Tmem14a","pheno":"No"},{"gene":"Gsta3","pheno":"No"},{"gene":"Khdc1a","pheno":"NA"},{"gene":"Khdc1c","pheno":"NA"},{"gene":"Khdc1b","pheno":"NA"}
     ]},
     "encoding": {
      "y": {"field": "gene", "type": "nominal", "scale": {"type": "band", "domain": ["Il17a","Il17f","Mcm3","Paqr8","Efhc1","Tram2","Tmem14a","Gsta3","Khdc1a","Khdc1c","Khdc1b"], "range": [35, 205], "paddingInner": 0, "paddingOuter": 0}, "axis": null}
     },
     "layer": [
      {"mark": {"type": "rect", "fill": "#FFFFFF", "stroke": "#555", "strokeWidth": 0.8}, "encoding": {"x": {"datum": 402, "type": "quantitative", "scale": {"domain": [0, 605], "nice": false, "zero": false}, "axis": null}, "x2": {"datum": 483}}},
      {"mark": {"type": "rect", "stroke": "#555", "strokeWidth": 0.8}, "encoding": {"x": {"datum": 483, "type": "quantitative"}, "x2": {"datum": 599}, "fill": {"field": "pheno", "type": "nominal", "scale": {"domain": ["No","Yes","NA"], "range": ["#FBEBCB","#92C89C","#FBEBCB"]}, "legend": null}}},
      {"mark": {"type": "text", "fontSize": 12.5, "fontStyle": "italic", "color": "#111"}, "encoding": {"x": {"datum": 442.5, "type": "quantitative"}, "text": {"field": "gene"}}},
      {"mark": {"type": "text", "fontSize": 12.5, "color": "#111"}, "encoding": {"x": {"datum": 541, "type": "quantitative"}, "text": {"field": "pheno"}}}
     ]
    },
    {
     "data": {"values": [{}]},
     "layer": [
      {"mark": {"type": "rect", "fill": "#ECECEC"}, "encoding": {"x": {"datum": 402, "type": "quantitative"}, "x2": {"datum": 599}, "y": {"datum": 365, "type": "quantitative", "scale": {"domain": [364, 580], "reverse": true, "nice": false, "zero": false}, "axis": null}, "y2": {"datum": 399}}},
      {"mark": {"type": "rule", "strokeWidth": 1.2, "color": "#111"}, "encoding": {"x": {"datum": 483, "type": "quantitative"}, "y": {"datum": 365, "type": "quantitative"}, "y2": {"datum": 569}}},
      {"mark": {"type": "rule", "strokeWidth": 1.5, "color": "#111"}, "encoding": {"x": {"datum": 402, "type": "quantitative"}, "x2": {"datum": 599}, "y": {"datum": 399, "type": "quantitative"}}},
      {"mark": {"type": "rect", "fillOpacity": 0, "stroke": "#111", "strokeWidth": 1.8}, "encoding": {"x": {"datum": 402, "type": "quantitative"}, "x2": {"datum": 599}, "y": {"datum": 365, "type": "quantitative"}, "y2": {"datum": 569}}},
      {"mark": {"type": "text", "text": "Gene symbol", "fontSize": 12.5, "fontWeight": "bold", "color": "#111"}, "encoding": {"x": {"datum": 442.5, "type": "quantitative"}, "y": {"datum": 382, "type": "quantitative"}}},
      {"mark": {"type": "text", "text": "Mouse Mortality", "fontSize": 12.5, "fontWeight": "bold", "color": "#111"}, "encoding": {"x": {"datum": 541, "type": "quantitative"}, "y": {"datum": 375, "type": "quantitative"}}},
      {"mark": {"type": "text", "text": "Phenotype", "fontSize": 12.5, "fontWeight": "bold", "color": "#111"}, "encoding": {"x": {"datum": 541, "type": "quantitative"}, "y": {"datum": 390, "type": "quantitative"}}}
     ]
    }
   ],
   "resolve": {"scale": {"y": "independent"}}
  }
 ],
 "resolve": {"scale": {"x": "independent", "y": "independent"}}
},
{
 "width": 605, "height": 232,
 "encoding": {
  "x": {"field": "x", "type": "quantitative", "scale": {"domain": [83808.1, 84216.9], "nice": false, "zero": false},
   "axis": {"orient": "bottom", "offset": -100, "values": [83850, 83900, 83950, 84000, 84050, 84100, 84150, 84200], "labelExpr": "format(datum.value, ',') + 'K'", "domain": false, "grid": false, "tickSize": 6, "tickColor": "#444", "tickWidth": 1.2, "labelFont": "Roboto", "labelFontSize": 10.5, "labelFontWeight": "bold", "labelColor": "#222", "labelPadding": 3, "title": null}}
 },
 "layer": [
  {"data": {"values": [
    {"x":83928.0,"x2":83930.7,"y":62},{"x":83930.7,"x2":83935.9,"y":100},{"x":83935.9,"x2":83936.6,"y":20},{"x":83936.6,"x2":83943.8,"y":100},{"x":83943.8,"x2":83944.5,"y":30},{"x":83944.5,"x2":83962.0,"y":100},{"x":83962.0,"x2":83965.9,"y":50},{"x":83965.9,"x2":83968.6,"y":100},{"x":83968.6,"x2":83969.3,"y":60},{"x":83969.3,"x2":83972.4,"y":100},{"x":83972.4,"x2":83973.2,"y":75},{"x":83973.2,"x2":83975.1,"y":100},{"x":83975.1,"x2":83976.0,"y":85},{"x":83976.0,"x2":83988.1,"y":100},{"x":83988.1,"x2":83988.8,"y":70},{"x":83988.8,"x2":83992.0,"y":100},
    {"x":83999.3,"x2":84006.4,"y":100},{"x":84006.4,"x2":84007.2,"y":5},{"x":84007.2,"x2":84008.5,"y":100},{"x":84008.5,"x2":84009.2,"y":60},{"x":84009.2,"x2":84069.0,"y":100},{"x":84069.0,"x2":84069.7,"y":55},{"x":84069.7,"x2":84072.0,"y":100},{"x":84072.0,"x2":84072.7,"y":70},{"x":84072.7,"x2":84079.4,"y":100},{"x":84079.4,"x2":84080.1,"y":50},{"x":84080.1,"x2":84084.7,"y":100},{"x":84084.7,"x2":84085.4,"y":45},{"x":84085.4,"x2":84093.8,"y":100},{"x":84093.8,"x2":84096.4,"y":50},
    {"x":84110.2,"x2":84111.0,"y":100}
   ]},
   "mark": {"type": "rect", "color": "#B5B5B5"},
   "encoding": {
    "x2": {"field": "x2"},
    "y": {"field": "y", "type": "quantitative", "scale": {"domain": [-143.2, 120.45], "nice": false, "zero": false}, "axis": null},
    "y2": {"datum": 0}}},
  {"data": {"values": [{"x":83848}]},
   "mark": {"type": "rule", "strokeWidth": 3, "color": "#111"},
   "encoding": {"y": {"datum": 0, "type": "quantitative", "axis": null}, "y2": {"datum": 97.7}}},
  {"data": {"values": [{"x":83850,"x2":84200}]},
   "layer": [
    {"mark": {"type": "rect", "color": "#F5F5F5"}, "encoding": {"x2": {"field": "x2"}, "y": {"datum": -25, "type": "quantitative", "axis": null}, "y2": {"datum": -9.1}}},
    {"mark": {"type": "rule", "strokeWidth": 12, "strokeDash": [1.6, 4.6], "strokeCap": "butt", "color": "#CBCBCB"}, "encoding": {"x2": {"field": "x2"}, "y": {"datum": -17.05, "type": "quantitative", "axis": null}}},
    {"mark": {"type": "rule", "strokeWidth": 2.5, "color": "#CBCBCB"}, "encoding": {"x2": {"field": "x2"}, "y": {"datum": -9.1, "type": "quantitative", "axis": null}}},
    {"mark": {"type": "rule", "strokeWidth": 2.5, "color": "#CBCBCB"}, "encoding": {"x2": {"field": "x2"}, "y": {"datum": -25, "type": "quantitative", "axis": null}}}
   ]},
  {"data": {"values": [
    {"gene":"Tbc1d9","x":83889.5,"x2":83998},{"gene":"Ucp1","x":84015.7,"x2":84023.5},{"gene":"Elmod2","x":84037.7,"x2":84057.2},{"gene":"Mgat4","x":84077.4,"x2":84105.5},{"gene":"Clgn","x":84115.9,"x2":84155.1},{"gene":"Scoc","x":84160.8,"x2":84185.1}
   ]},
   "mark": {"type": "rule", "strokeWidth": 1.5, "color": "#3A9E46"},
   "encoding": {"x2": {"field": "x2"}, "y": {"datum": -63.6, "type": "quantitative", "axis": null}}},
  {"data": {"values": [
    {"x":83889.5},{"x":83925.5},{"x":83930.7},{"x":83938.5},{"x":83946.3},{"x":83952.9},{"x":83958.1},{"x":83960.7},{"x":83963.3},{"x":83965.9},{"x":83975.1},{"x":83979.0},{"x":83982.9},{"x":83986.8},{"x":83990.7},{"x":83994.6},{"x":83998.0},
    {"x":84015.7},{"x":84018.3},{"x":84020.9},{"x":84023.5},
    {"x":84037.7},{"x":84039.0},{"x":84040.3},{"x":84041.6},{"x":84042.9},{"x":84050.7},{"x":84054.6},{"x":84057.2},
    {"x":84077.4},{"x":84082},{"x":84086},{"x":84089.9},{"x":84093.8},{"x":84097.7},{"x":84105.5},
    {"x":84115.9},{"x":84119.9},{"x":84123.8},{"x":84134.2},{"x":84138.1},{"x":84144.7},{"x":84148.6},{"x":84150.3},{"x":84152},{"x":84155.1},
    {"x":84160.8},{"x":84162.1},{"x":84163.4},{"x":84169.4},{"x":84185.1}
   ]},
   "mark": {"type": "rule", "strokeWidth": 2, "color": "#4CAF50"},
   "encoding": {"y": {"datum": -57.95, "type": "quantitative", "axis": null}, "y2": {"datum": -69.3}}},
  {"data": {"values": [{"t":"Tbc1d9","x":83944},{"t":"Ucp1","x":84018.9},{"t":"Elmod2","x":84049.3},{"t":"Mgat4","x":84091.2},{"t":"Clgn","x":84134.5},{"t":"Scoc","x":84173.6}]},
   "mark": {"type": "text", "font": "Roboto", "fontSize": 12, "fontWeight": "bold", "color": "#222"},
   "encoding": {"y": {"datum": -85.2, "type": "quantitative", "axis": null}, "text": {"field": "t"}}},
  {"data": {"values": [{"x":83895.23,"x2":84124.966}]},
   "mark": {"type": "rect", "color": "#D5A6C8"},
   "encoding": {"x2": {"field": "x2"}, "y": {"datum": -117, "type": "quantitative", "axis": null}, "y2": {"datum": -109.1}}},
  {"data": {"values": [{"x":83895.23,"t":"83,895,230"},{"x":84124.966,"t":"84,124,966"}]},
   "layer": [
    {"mark": {"type": "rule", "strokeWidth": 1, "color": "#888"}, "encoding": {"y": {"datum": -117, "type": "quantitative", "axis": null}, "y2": {"datum": -126.1}}},
    {"mark": {"type": "text", "font": "Roboto", "fontSize": 11, "fontWeight": "bold", "color": "#222"}, "encoding": {"y": {"datum": -135.2, "type": "quantitative", "axis": null}, "text": {"field": "t"}}}
   ]},
  {"data": {"values": [{"t":"BAC 148M1","x":84128.4,"y":-113.6}]},
   "mark": {"type": "text", "align": "left", "font": "Roboto", "fontSize": 12, "fontWeight": "bold", "color": "#222"},
   "encoding": {"y": {"field": "y", "type": "quantitative", "axis": null}, "text": {"field": "t"}}},
  {"data": {"values": [{"t":"Chr 8","x":83845.9,"y":-17}]},
   "mark": {"type": "text", "align": "right", "font": "Roboto", "fontSize": 12, "fontWeight": "bold", "color": "#222"},
   "encoding": {"y": {"field": "y", "type": "quantitative", "axis": null}, "text": {"field": "t"}}},
  {"data": {"values": [{"t":"E","x":83810.1,"y":114.8}]},
   "mark": {"type": "text", "align": "left", "fontSize": 17, "fontWeight": "bold", "color": "#111"},
   "encoding": {"y": {"field": "y", "type": "quantitative", "axis": null}, "text": {"field": "t"}}},
  {"data": {"values": [{"t":"Coverage","x":83839.2,"y":48.9}]},
   "mark": {"type": "text", "angle": 270, "fontSize": 13, "fontWeight": "bold", "color": "#111"},
   "encoding": {"y": {"field": "y", "type": "quantitative", "axis": null}, "text": {"field": "t"}}}
 ]
},
{
 "width": 605, "height": 113,
 "layer": [
  {"data": {"values": [
    {"seg":"utr5","x":27,"x2":85},{"seg":"nls","x":85,"x2":100},{"seg":"cds","x":100,"x2":372},{"seg":"utr3","x":372,"x2":487},{"seg":"unk","x":487,"x2":530},{"seg":"ex1","x":530,"x2":568},{"seg":"ex2","x":568,"x2":600}
   ]},
   "mark": {"type": "rect"},
   "encoding": {
    "x": {"field": "x", "type": "quantitative", "scale": {"domain": [0, 605], "nice": false, "zero": false}, "axis": null},
    "x2": {"field": "x2"},
    "y": {"datum": 841, "type": "quantitative", "scale": {"domain": [812, 925], "reverse": true, "nice": false, "zero": false}, "axis": null},
    "y2": {"datum": 847},
    "color": {"field": "seg", "type": "nominal", "scale": {"domain": ["utr5","nls","cds","utr3","unk","ex1","ex2"], "range": ["#1D5E96","#3FA34D","#B5B5B5","#5C5C5C","#C47734","#3DB8E8","#2C8FD3"]}, "legend": null}}},
  {"data": {"values": [
    {"seg":"utr5","x":37},{"seg":"utr5","x":50},{"seg":"utr5","x":64},{"seg":"utr5","x":79},
    {"seg":"nls","x":92},
    {"seg":"cds","x":106.2},{"seg":"cds","x":120.5},{"seg":"cds","x":134.7},{"seg":"cds","x":149},{"seg":"cds","x":163.3},{"seg":"cds","x":177.5},{"seg":"cds","x":191.8},{"seg":"cds","x":206.1},{"seg":"cds","x":220.3},{"seg":"cds","x":234.6},{"seg":"cds","x":248.9},{"seg":"cds","x":263.1},{"seg":"cds","x":277.4},{"seg":"cds","x":291.7},{"seg":"cds","x":305.9},{"seg":"cds","x":320.2},{"seg":"cds","x":334.5},{"seg":"cds","x":348.7},{"seg":"cds","x":363},
    {"seg":"utr3","x":380},{"seg":"utr3","x":394.4},{"seg":"utr3","x":408.9},{"seg":"utr3","x":423.3},{"seg":"utr3","x":437.7},{"seg":"utr3","x":452.1},{"seg":"utr3","x":466.6},{"seg":"utr3","x":481},
    {"seg":"unk","x":498},{"seg":"unk","x":510},{"seg":"unk","x":523},
    {"seg":"ex1","x":537},{"seg":"ex1","x":550},{"seg":"ex1","x":563},
    {"seg":"ex2","x":573},{"seg":"ex2","x":584},{"seg":"ex2","x":595}
   ]},
   "mark": {"type": "rule", "strokeWidth": 3},
   "encoding": {"x": {"field": "x", "type": "quantitative", "axis": null}, "y": {"datum": 846, "type": "quantitative", "axis": null}, "y2": {"datum": 863}, "color": {"field": "seg", "type": "nominal", "legend": null}}},
  {"data": {"values": [
    {"seg":"utr5","t":"5'-UTR","x":56},{"seg":"nls","t":"NLS","x":93},{"seg":"cds","t":"Cre CDS","x":237},{"seg":"utr3","t":"Cre 3'-UTR","x":429},{"seg":"unk","t":"Unk","x":508}
   ]},
   "mark": {"type": "text", "font": "Roboto", "fontSize": 12, "fontWeight": "bold"},
   "encoding": {"x": {"field": "x", "type": "quantitative", "axis": null}, "y": {"datum": 834, "type": "quantitative", "axis": null}, "text": {"field": "t"}, "color": {"field": "seg", "type": "nominal", "legend": null}}},
  {"data": {"values": [{"seg":"ex1","t":"Exon 1","x":548},{"seg":"ex2","t":"Exon 2","x":584}]},
   "mark": {"type": "text", "font": "Roboto", "fontSize": 11, "fontWeight": "bold"},
   "encoding": {"x": {"field": "x", "type": "quantitative", "axis": null}, "y": {"datum": 834, "type": "quantitative", "axis": null}, "text": {"field": "t"}, "color": {"field": "seg", "type": "nominal", "legend": null}}},
  {"data": {"values": [{"seg":"utr5","t":"Ucp1","x":56},{"seg":"ex1","t":"Ucp1","x":545},{"seg":"ex2","t":"Ucp1","x":581}]},
   "mark": {"type": "text", "font": "Roboto", "fontSize": 11.5, "fontWeight": "bold", "fontStyle": "italic"},
   "encoding": {"x": {"field": "x", "type": "quantitative", "axis": null}, "y": {"datum": 821, "type": "quantitative", "axis": null}, "text": {"field": "t"}, "color": {"field": "seg", "type": "nominal", "legend": null}}},
  {"data": {"values": [{"t":"227bp","x":62},{"t":"21bp","x":94},{"t":"1032bp","x":236},{"t":"530bp","x":425},{"t":"139bp","x":509},{"t":"66bp","x":543},{"t":"190bp","x":582}]},
   "mark": {"type": "text", "font": "Roboto", "fontSize": 11.5, "fontWeight": "bold", "color": "#222"},
   "encoding": {"x": {"field": "x", "type": "quantitative", "axis": null}, "y": {"datum": 872, "type": "quantitative", "axis": null}, "text": {"field": "t"}}},
  {"data": {"values": [
    {"id":"s","o":1,"x":90,"y":847},{"id":"s","o":2,"x":77,"y":867},{"id":"s","o":3,"x":77,"y":885},
    {"id":"e","o":1,"x":373,"y":847},{"id":"e","o":2,"x":373,"y":885}
   ]},
   "mark": {"type": "line", "strokeWidth": 1.5, "strokeDash": [3, 2], "color": "#333"},
   "encoding": {"x": {"field": "x", "type": "quantitative", "axis": null}, "y": {"field": "y", "type": "quantitative", "axis": null}, "detail": {"field": "id"}, "order": {"field": "o"}}},
  {"data": {"values": [{"t":"Cre START codon","x":81},{"t":"Cre STOP codon","x":373}]},
   "mark": {"type": "text", "font": "Roboto", "fontSize": 12, "fontWeight": "bold", "color": "#222"},
   "encoding": {"x": {"field": "x", "type": "quantitative", "axis": null}, "y": {"datum": 892, "type": "quantitative", "axis": null}, "text": {"field": "t"}}},
  {"data": {"values": [{"t":"F","x":3,"y":816},{"t":"G","x":3,"y":914},{"t":"H","x":175,"y":914},{"t":"I","x":337,"y":914}]},
   "mark": {"type": "text", "align": "left", "fontSize": 17, "fontWeight": "bold", "color": "#111"},
   "encoding": {"x": {"field": "x", "type": "quantitative", "axis": null}, "y": {"field": "y", "type": "quantitative", "axis": null}, "text": {"field": "t"}}},
  {"data": {"values": [{"t":"Cre CNV","x":101,"y":914}]},
   "mark": {"type": "text", "fontSize": 15.5, "color": "#111"},
   "encoding": {"x": {"field": "x", "type": "quantitative", "axis": null}, "y": {"field": "y", "type": "quantitative", "axis": null}, "text": {"field": "t"}}},
  {"data": {"values": [{"t":"Ucp1","x":265,"y":914},{"t":"Cre","x":384,"y":914}]},
   "mark": {"type": "text", "align": "right", "fontSize": 15.5, "fontStyle": "italic", "color": "#111"},
   "encoding": {"x": {"field": "x", "type": "quantitative", "axis": null}, "y": {"field": "y", "type": "quantitative", "axis": null}, "text": {"field": "t"}}},
  {"data": {"values": [{"t":"CNV","x":269,"y":914},{"t":"ddPCR","x":388,"y":914}]},
   "mark": {"type": "text", "align": "left", "fontSize": 15.5, "color": "#111"},
   "encoding": {"x": {"field": "x", "type": "quantitative", "axis": null}, "y": {"field": "y", "type": "quantitative", "axis": null}, "text": {"field": "t"}}}
 ]
},
{
 "width": 605, "height": 124,
 "layer": [
  {
   "data": {"values": [{"group":"1x","mean":1.05,"hi":1.1},{"group":"2x","mean":2.08,"hi":2.13}]},
   "encoding": {
    "x": {"field": "group", "type": "nominal", "scale": {"type": "band", "domain": ["Control","1x","2x"], "range": [72, 144], "paddingInner": 0.23, "paddingOuter": 0}, "axis": null},
    "y": {"field": "mean", "type": "quantitative", "scale": {"domain": [0, 3], "range": [117, 3], "nice": false, "zero": false},
     "axis": {"orient": "left", "offset": -60, "values": [0, 1, 2, 3], "format": "d", "title": "Relative Copy Number (RU)", "titleFontSize": 9, "titleFontWeight": "bold", "titleColor": "#111", "titlePadding": 8, "labelFontSize": 10, "labelFontWeight": "bold", "labelColor": "#111", "labelPadding": 2, "tickSize": 4, "tickColor": "#111", "tickWidth": 1.5, "domainColor": "#111", "domainWidth": 1.5, "grid": false}}
   },
   "layer": [
    {"mark": {"type": "bar", "stroke": "#111", "strokeWidth": 1.5}, "encoding": {"color": {"field": "group", "type": "nominal", "scale": {"domain": ["Control","1x","2x"], "range": ["#E88C47","#D7202E","#4B0D12"]},
      "legend": {"orient": "none", "legendX": 485, "legendY": 14.5, "title": null, "symbolType": "square", "symbolSize": 170, "symbolStrokeColor": "#111", "symbolStrokeWidth": 1.5, "labelFontSize": 12, "labelFontWeight": "bold", "labelFontStyle": "italic", "labelColor": "#111", "rowPadding": 0, "labelExpr": "datum.label == 'Control' ? 'Control' : datum.label + 'Ucp1-Creᴱᵛᵈʳ'"}}}},
    {"mark": {"type": "rule", "strokeWidth": 1.5, "color": "#111"}, "encoding": {"y2": {"field": "hi"}}},
    {"mark": {"type": "tick", "thickness": 1.5, "size": 12, "color": "#111"}, "encoding": {"y": {"field": "hi", "type": "quantitative"}}},
    {"data": {"values": [{"t":"ND"}]}, "mark": {"type": "text", "fontWeight": "bold", "fontSize": 11, "color": "#111"}, "encoding": {"x": {"datum": "Control"}, "y": {"datum": 0.1}, "text": {"field": "t"}}}
   ]
  },
  {
   "data": {"values": [{"group":"Control","mean":1.97,"hi":2.05},{"group":"1x","mean":3.2,"hi":3.28},{"group":"2x","mean":4.3,"hi":4.41}]},
   "encoding": {
    "x": {"field": "group", "type": "nominal", "scale": {"type": "band", "domain": ["Control","1x","2x"], "range": [229, 299], "paddingInner": 0.23, "paddingOuter": 0}, "axis": null},
    "y": {"field": "mean", "type": "quantitative", "scale": {"domain": [0, 5], "range": [117, 3], "nice": false, "zero": false},
     "axis": {"orient": "left", "offset": -222, "values": [0, 1, 2, 3, 4, 5], "format": "d", "title": "Relative Copy Number (RU)", "titleFontSize": 9, "titleFontWeight": "bold", "titleColor": "#111", "titlePadding": 8, "labelFontSize": 10, "labelFontWeight": "bold", "labelColor": "#111", "labelPadding": 2, "tickSize": 4, "tickColor": "#111", "tickWidth": 1.5, "domainColor": "#111", "domainWidth": 1.5, "grid": false}}
   },
   "layer": [
    {"mark": {"type": "bar", "stroke": "#111", "strokeWidth": 1.5}, "encoding": {"color": {"field": "group", "type": "nominal", "scale": {"domain": ["Control","1x","2x"], "range": ["#E88C47","#D7202E","#4B0D12"]},
      "legend": {"orient": "none", "legendX": 485, "legendY": 14.5, "title": null, "symbolType": "square", "symbolSize": 170, "symbolStrokeColor": "#111", "symbolStrokeWidth": 1.5, "labelFontSize": 12, "labelFontWeight": "bold", "labelFontStyle": "italic", "labelColor": "#111", "rowPadding": 0, "labelExpr": "datum.label == 'Control' ? 'Control' : datum.label + 'Ucp1-Creᴱᵛᵈʳ'"}}}},
    {"mark": {"type": "rule", "strokeWidth": 1.5, "color": "#111"}, "encoding": {"y2": {"field": "hi"}}},
    {"mark": {"type": "tick", "thickness": 1.5, "size": 12, "color": "#111"}, "encoding": {"y": {"field": "hi", "type": "quantitative"}}}
   ]
  },
  {
   "data": {"values": [{"group":"1x","mean":1.05,"hi":1.07},{"group":"2x","mean":2.1,"hi":2.15}]},
   "encoding": {
    "x": {"field": "group", "type": "nominal", "scale": {"type": "band", "domain": ["Control","1x","2x"], "range": [383, 454], "paddingInner": 0.23, "paddingOuter": 0}, "axis": null},
    "y": {"field": "mean", "type": "quantitative", "scale": {"domain": [0, 3], "range": [117, 3], "nice": false, "zero": false},
     "axis": {"orient": "left", "offset": -363, "values": [0, 1, 2, 3], "format": "d", "title": "Total Copy Number", "titleFontSize": 9, "titleFontWeight": "bold", "titleColor": "#111", "titlePadding": 8, "labelFontSize": 10, "labelFontWeight": "bold", "labelColor": "#111", "labelPadding": 2, "tickSize": 4, "tickColor": "#111", "tickWidth": 1.5, "domainColor": "#111", "domainWidth": 1.5, "grid": false}}
   },
   "layer": [
    {"mark": {"type": "bar", "stroke": "#111", "strokeWidth": 1.5}, "encoding": {"color": {"field": "group", "type": "nominal", "scale": {"domain": ["Control","1x","2x"], "range": ["#E88C47","#D7202E","#4B0D12"]},
      "legend": {"orient": "none", "legendX": 485, "legendY": 14.5, "title": null, "symbolType": "square", "symbolSize": 170, "symbolStrokeColor": "#111", "symbolStrokeWidth": 1.5, "labelFontSize": 12, "labelFontWeight": "bold", "labelFontStyle": "italic", "labelColor": "#111", "rowPadding": 0, "labelExpr": "datum.label == 'Control' ? 'Control' : datum.label + 'Ucp1-Creᴱᵛᵈʳ'"}}}},
    {"mark": {"type": "rule", "strokeWidth": 1.5, "color": "#111"}, "encoding": {"y2": {"field": "hi"}}},
    {"mark": {"type": "tick", "thickness": 1.5, "size": 12, "color": "#111"}, "encoding": {"y": {"field": "hi", "type": "quantitative"}}},
    {"data": {"values": [{"t":"ND"}]}, "mark": {"type": "text", "fontWeight": "bold", "fontSize": 11, "color": "#111"}, "encoding": {"x": {"datum": "Control"}, "y": {"datum": 0.1}, "text": {"field": "t"}}}
   ]
  }
 ],
 "resolve": {"scale": {"x": "independent", "y": "independent"}}
}
]
}
